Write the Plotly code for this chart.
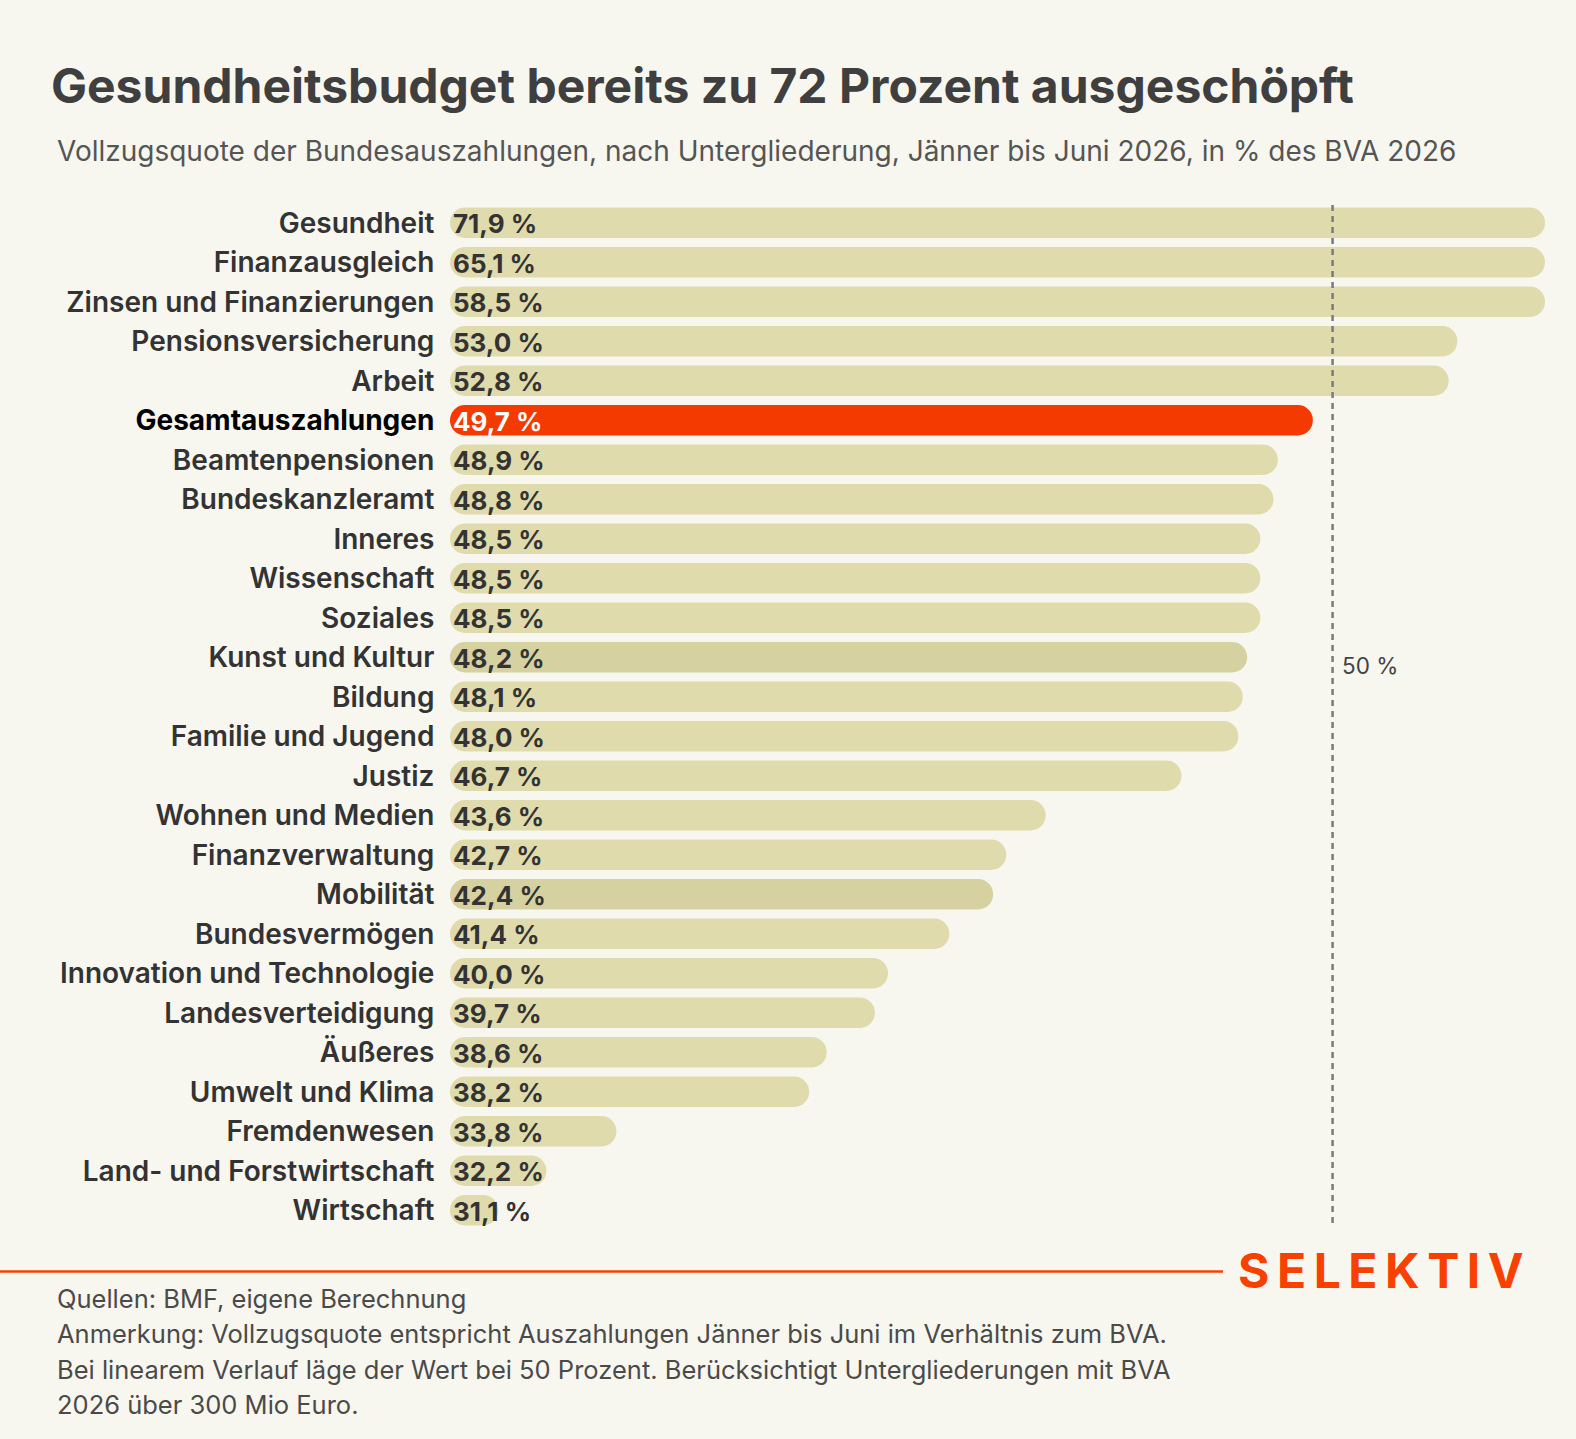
import plotly.graph_objects as go
import numpy as np

categories = [
    "Gesundheit", "Finanzausgleich", "Zinsen und Finanzierungen", "Pensionsversicherung",
    "Arbeit", "Gesamtauszahlungen", "Beamtenpensionen", "Bundeskanzleramt", "Inneres",
    "Wissenschaft", "Soziales", "Kunst und Kultur", "Bildung", "Familie und Jugend",
    "Justiz", "Wohnen und Medien", "Finanzverwaltung", "Mobilität", "Bundesvermögen",
    "Innovation und Technologie", "Landesverteidigung", "Äußeres", "Umwelt und Klima",
    "Fremdenwesen", "Land- und Forstwirtschaft", "Wirtschaft",
]
values = [71.9, 65.1, 58.5, 53.0, 52.8, 49.7, 48.9, 48.8, 48.5, 48.5, 48.5, 48.2, 48.1,
          48.0, 46.7, 43.6, 42.7, 42.4, 41.4, 40.0, 39.7, 38.6, 38.2, 33.8, 32.2, 31.1]
highlight = "Gesamtauszahlungen"
darker = ["Kunst und Kultur", "Mobilität"]

X_MIN, X_MAX = 30, 55
REF_LINE = 50

BG = "#F8F7EF"
BAR = "#E0DBAD"
BAR_DARK = "#D6D1A1"
RED = "#F53A00"
BRAND = "#F84100"
TXT = "#333333"
FONT = "Inter"

W, H = 1576, 1439
L, R, T, B = 450, 1545, 203, 1230


def px(x):
    return (x - L) / (R - L)


def py(y):
    return (B - y) / (B - T)


vals = np.array(values)
shown = np.minimum(vals, X_MAX)
colors = [RED if c == highlight else (BAR_DARK if c in darker else BAR) for c in categories]
labels = [f"{v:.1f} %".replace(".", ",") for v in values]
ticktext = [f"<span style='color:#000000'><b>{c}</b></span>" if c == highlight else c for c in categories]

fig = go.Figure()
fig.add_trace(go.Bar(
    y=categories, x=shown - X_MIN, base=X_MIN, orientation="h",
    marker=dict(color=colors, line=dict(width=0)),
    hoverinfo="skip",
))

fig.add_shape(type="line", xref="x", yref="paper", x0=REF_LINE + 0.15, x1=REF_LINE + 0.15,
              y0=py(1223), y1=py(205), line=dict(color="#7A7A7A", width=2.5, dash="6px,5px"),
              layer="above")
fig.add_shape(type="line", xref="paper", yref="paper", x0=px(0), x1=px(1223),
              y0=py(1271.5), y1=py(1271.5), line=dict(color=BRAND, width=2.5))

annotations = []
for c, lab in zip(categories, labels):
    annotations.append(dict(
        x=X_MIN, y=c, xref="x", yref="y", text=f"<b>{lab}</b>", showarrow=False,
        xanchor="left", yanchor="middle", xshift=1, yshift=-1,
        font=dict(family=FONT, size=26, color="#FFFFFF" if c == highlight else TXT),
    ))

annotations += [
    dict(x=REF_LINE + 0.15, xref="x", y=py(665), yref="paper", text="50 %", showarrow=False,
         xanchor="left", yanchor="middle", xshift=7,
         font=dict(family=FONT, size=22.5, color="#444444")),
    dict(x=px(49), y=py(85), xref="paper", yref="paper",
         text="<b>Gesundheitsbudget bereits zu 72 Prozent ausgeschöpft</b>", showarrow=False,
         xanchor="left", yanchor="middle", font=dict(family=FONT, size=48, color="#3F3F3F")),
    dict(x=px(55), y=py(151), xref="paper", yref="paper",
         text="Vollzugsquote der Bundesauszahlungen, nach Untergliederung, Jänner bis Juni 2026, in % des BVA 2026",
         showarrow=False, xanchor="left", yanchor="middle",
         font=dict(family=FONT, size=28, color="#555555")),
    dict(x=px(1236), y=py(1270), xref="paper", yref="paper",
         text="<b>S\u2009E\u2009L\u2009E\u2009K\u2009T\u2009I\u2009V</b>", showarrow=False,
         xanchor="left", yanchor="middle", font=dict(family=FONT, size=48, color=BRAND)),
]
footer = [
    "Quellen: BMF, eigene Berechnung",
    "Anmerkung: Vollzugsquote entspricht Auszahlungen Jänner bis Juni im Verhältnis zum BVA.",
    "Bei linearem Verlauf läge der Wert bei 50 Prozent. Berücksichtigt Untergliederungen mit BVA",
    "2026 über 300 Mio Euro.",
]
for i, line in enumerate(footer):
    annotations.append(dict(x=px(55), y=py(1298 + i * 35.5), xref="paper", yref="paper",
                            text=line, showarrow=False, xanchor="left", yanchor="middle",
                            font=dict(family=FONT, size=25.5, color="#4A4A4A")))

fig.update_layout(
    width=W, height=H,
    margin=dict(l=L, r=W - R, t=T, b=H - B, pad=0),
    paper_bgcolor=BG, plot_bgcolor=BG,
    showlegend=False,
    bargap=0.23,
    barcornerradius=15,
    annotations=annotations,
    xaxis=dict(range=[X_MIN, X_MAX], visible=False, fixedrange=True),
    yaxis=dict(categoryorder="array", categoryarray=categories[::-1], autorange=False,
               range=[-0.5, len(categories) - 0.5],
               tickmode="array", tickvals=categories, ticktext=ticktext,
               tickfont=dict(family=FONT, size=28, color=TXT, weight=600),
               ticks="outside", ticklen=9, tickcolor="rgba(0,0,0,0)",
               showgrid=False, zeroline=False, showline=False),
)

fig.write_html(
    "out.html",
    config={"displayModeBar": False},
    post_script="document.body.style.margin='0';document.body.style.background='" + BG + "';",
)
